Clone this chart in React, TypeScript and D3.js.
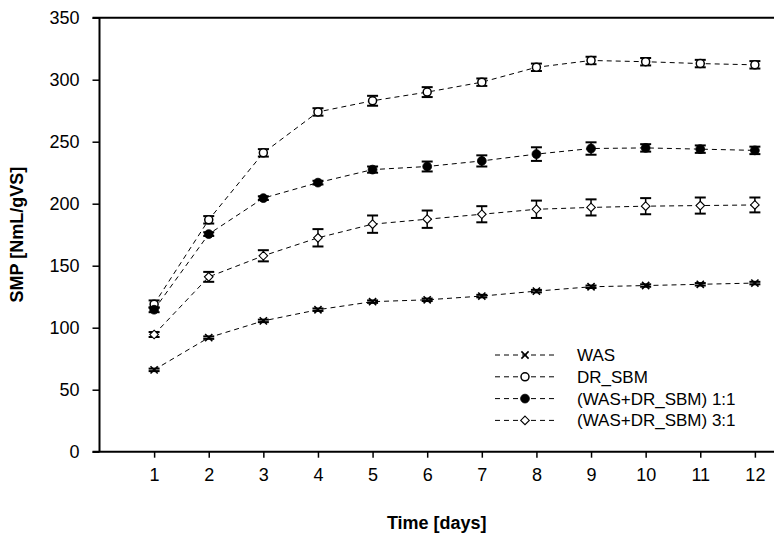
import React, { useRef, useEffect } from 'react';
import * as d3 from 'd3';

const days = [1, 2, 3, 4, 5, 6, 7, 8, 9, 10, 11, 12];
const yTicks = [0, 50, 100, 150, 200, 250, 300, 350];

const wasMean = [66, 92, 105.5, 114.5, 121, 122.5, 125.5, 129.5, 133, 134, 135, 136];
const wasErr = [1, 1, 1, 1, 1, 1, 1, 1, 1, 1, 1, 1];
const drMean = [119, 187, 241, 274, 283, 290, 298, 310, 315.5, 314.5, 313, 312];
const drErr = [3, 3, 3, 3, 4, 4, 3, 3, 3, 3, 3, 3];
const mix11Mean = [114.5, 175.5, 204.5, 217, 227.5, 230, 234.5, 240, 244.5, 245, 244, 243];
const mix11Err = [2, 1.5, 1.5, 1.5, 2.5, 4, 4.5, 5.5, 5, 3, 3, 3];
const mix31Mean = [94.5, 141, 158, 172.5, 183.5, 187.5, 191.5, 195.5, 197, 198, 198.5, 199];
const mix31Err = [2, 4, 4.5, 7, 7, 7, 6.5, 7, 6.5, 6.5, 6.5, 6];

const seriesNames = ['WAS', 'DR_SBM', '(WAS+DR_SBM) 1:1', '(WAS+DR_SBM) 3:1'];
const markers = ['cross', 'openCircle', 'filledCircle', 'diamond'];

const FONT = '"Liberation Sans", Arial, sans-serif';

const App = () => {
  const svgRef = useRef<SVGSVGElement>(null);

  useEffect(() => {
    const width = 779;
    const height = 534;
    const svg = d3.select(svgRef.current);
    svg.selectAll('*').remove();

    const x = d3.scaleLinear().domain([0, 12.35]).range([99.5, 774]);
    const y = d3.scaleLinear().domain([0, 350]).range([451.7, 17.7]);

    const series = [
      { name: seriesNames[0], mean: wasMean, err: wasErr, marker: markers[0] },
      { name: seriesNames[1], mean: drMean, err: drErr, marker: markers[1] },
      { name: seriesNames[2], mean: mix11Mean, err: mix11Err, marker: markers[2] },
      { name: seriesNames[3], mean: mix31Mean, err: mix31Err, marker: markers[3] },
    ];

    const drawMarker = (g: any, kind: string, cx: number, cy: number) => {
      if (kind === 'cross') {
        const s = 3.6;
        g.append('path')
          .attr('d', `M${cx - s},${cy - s}L${cx + s},${cy + s}M${cx - s},${cy + s}L${cx + s},${cy - s}`)
          .attr('stroke', '#000').attr('stroke-width', 1.6).attr('fill', 'none');
      } else if (kind === 'openCircle') {
        g.append('circle').attr('cx', cx).attr('cy', cy).attr('r', 4)
          .attr('fill', '#fff').attr('stroke', '#000').attr('stroke-width', 1.5);
      } else if (kind === 'filledCircle') {
        g.append('circle').attr('cx', cx).attr('cy', cy).attr('r', 4.4)
          .attr('fill', '#000').attr('stroke', '#000').attr('stroke-width', 0.8);
      } else {
        const s = 4.3;
        g.append('path')
          .attr('d', `M${cx},${cy - s}L${cx + s},${cy}L${cx},${cy + s}L${cx - s},${cy}Z`)
          .attr('fill', '#fff').attr('stroke', '#000').attr('stroke-width', 1.1);
      }
    };

    // axes
    const xAxis = svg.append('g')
      .attr('transform', `translate(0,${y(0)})`)
      .call(d3.axisBottom(x).tickValues(days).tickSize(6).tickPadding(11).tickFormat(d3.format('d')));
    xAxis.select('.domain').attr('d', `M${x(0) - 7},0H${x(12.35)}`).attr('stroke-width', 2);
    xAxis.selectAll('.tick line').attr('stroke-width', 1.5);
    xAxis.selectAll('text').attr('font-size', 18).attr('font-family', FONT).attr('fill', '#000');

    const yAxis = svg.append('g')
      .attr('transform', `translate(${x(0)},0)`)
      .call(d3.axisLeft(y).tickValues(yTicks).tickSize(7).tickPadding(13));
    yAxis.select('.domain').attr('d', `M0,${y(0)}V${y(350)}`).attr('stroke-width', 2);
    yAxis.selectAll('.tick line').attr('stroke-width', 1.5);
    yAxis.selectAll('text').attr('font-size', 18).attr('font-family', FONT).attr('fill', '#000');

    // top border line
    svg.append('line')
      .attr('x1', x(0) - 7).attr('x2', x(12.35))
      .attr('y1', y(350)).attr('y2', y(350))
      .attr('stroke', '#000').attr('stroke-width', 2);

    const line = d3.line<number>()
      .x((_, i) => x(days[i]))
      .y((d) => y(d));

    series.forEach((s) => {
      svg.append('path')
        .datum(s.mean)
        .attr('fill', 'none')
        .attr('stroke', '#000')
        .attr('stroke-width', 1)
        .attr('stroke-dasharray', '5,4')
        .attr('d', line);
    });

    series.forEach((s) => {
      const g = svg.append('g');
      s.mean.forEach((m, i) => {
        const cx = x(days[i]);
        const top = y(m + s.err[i]);
        const bot = y(m - s.err[i]);
        g.append('line').attr('x1', cx).attr('x2', cx).attr('y1', top).attr('y2', bot)
          .attr('stroke', '#000').attr('stroke-width', 1.5);
        [top, bot].forEach((yy) => {
          g.append('line').attr('x1', cx - 5.5).attr('x2', cx + 5.5).attr('y1', yy).attr('y2', yy)
            .attr('stroke', '#000').attr('stroke-width', 2);
        });
        drawMarker(g, s.marker, cx, y(m));
      });
    });

    // legend
    const legend = svg.append('g');
    series.forEach((s, i) => {
      const ly = 355 + i * 21.8;
      legend.append('line')
        .attr('x1', 495).attr('x2', 557).attr('y1', ly).attr('y2', ly)
        .attr('stroke', '#000').attr('stroke-width', 1).attr('stroke-dasharray', '5,4');
      drawMarker(legend, s.marker, 525, ly);
      legend.append('text')
        .attr('x', 577).attr('y', ly + 6)
        .attr('font-size', 17).attr('font-family', FONT)
        .text(s.name);
    });

    // titles
    svg.append('text')
      .attr('x', (x(0) + x(12.35)) / 2).attr('y', 529)
      .attr('text-anchor', 'middle')
      .attr('font-size', 18).attr('font-weight', 'bold').attr('font-family', FONT)
      .text('Time [days]');

    svg.append('text')
      .attr('transform', `translate(23,${(y(0) + y(350)) / 2}) rotate(-90)`)
      .attr('text-anchor', 'middle')
      .attr('font-size', 18).attr('font-weight', 'bold').attr('font-family', FONT)
      .text('SMP [NmL/gVS]');

    svg.attr('width', width).attr('height', height);
  }, []);

  return (
    <svg
      ref={svgRef}
      width={779}
      height={534}
      style={{ position: 'absolute', left: 0, top: 0, background: '#fff' }}
    />
  );
};

export default App;
